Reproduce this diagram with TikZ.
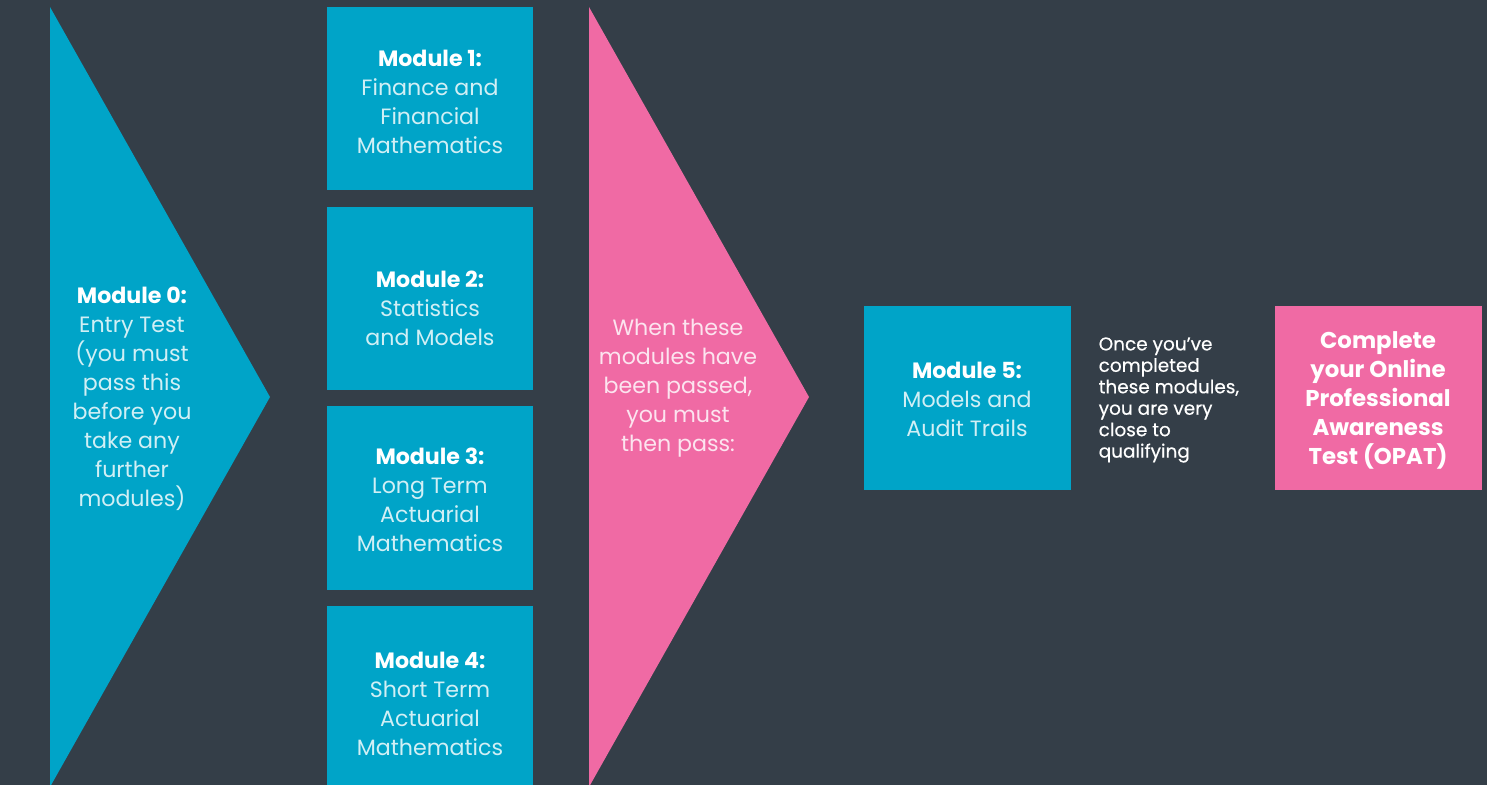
\documentclass[tikz,border=0pt]{standalone}
\usepackage{fontspec}
\setmainfont{Poppins}
\usetikzlibrary{positioning}
\definecolor{slate}{RGB}{52,62,72}
\definecolor{actblue}{RGB}{0,164,200}
\definecolor{actpink}{RGB}{240,106,164}
\newcommand{\modhead}[1]{\textcolor{white}{\textbf{#1}}\\}

\begin{document}
\begin{tikzpicture}[x=0.01cm,y=-0.01cm,
    modbox/.style={fill=actblue, minimum width=2.06cm, minimum height=1.83cm, inner sep=0pt},
    passbox/.style={modbox, fill=actpink},
    modtext/.style={align=center, inner sep=0pt, text=white!82!actblue,
      font=\fontsize{6.3}{8.25}\selectfont},
    passtext/.style={modtext, text=white!82!actpink},
    notetext/.style={align=left, anchor=west, inner sep=0pt, text=white,
      font=\fontsize{5.25}{6.1}\selectfont\addfontfeature{FakeBold=0.4}}]
  \fill[slate] (0,0) rectangle (1487,785);
  \useasboundingbox (0,0) rectangle (1487,785);

  \fill[actblue] (50,7) -- (270,397) -- (50,787) -- cycle;
  \node[modtext] (m0) at (132,398.5) {\modhead{Module 0:}Entry Test\\(you must\\pass this\\before you\\take any\\further\\modules)};

  \node[modbox] (b1) at (430,98.5) {};
  \node[modbox] (b2) at (430,298.5) {};
  \node[modbox] (b3) at (430,498) {};
  \node[modbox] (b4) at (430,697.5) {};
  \node[modtext] (m1) at (430,102) {\modhead{Module 1:}Finance and\\Financial\\Mathematics};
  \node[modtext] (m2) at (430,308) {\modhead{Module 2:}Statistics\\and Models};
  \node[modtext] (m3) at (430,499.5) {\modhead{Module 3:}Long Term\\Actuarial\\Mathematics};
  \node[modtext] (m4) at (430,703.5) {\modhead{Module 4:}Short Term\\Actuarial\\Mathematics};

  \fill[actpink] (589,7) -- (809,397) -- (589,787) -- cycle;
  \node[passtext] (then) at (678,388) {When these\\modules have\\been passed,\\you must\\then pass:};

  \node[modbox, minimum width=2.07cm, minimum height=1.84cm] (b5) at (967.5,398) {};
  \node[modtext] (m5) at (967,399) {\modhead{Module 5:}Models and\\Audit Trails};

  \node[notetext] (close) at (1098,400) {Once you’ve\\completed\\these modules,\\you are very\\close to\\qualifying};

  \node[passbox, minimum width=2.07cm, minimum height=1.84cm] (opat) at (1378.5,398) {};
  \node[modtext, text=white, font=\fontsize{6.5}{8.25}\selectfont\bfseries] (test) at (1378,400) {Complete\\your Online\\Professional\\Awareness\\Test (OPAT)};
\end{tikzpicture}
\end{document}
